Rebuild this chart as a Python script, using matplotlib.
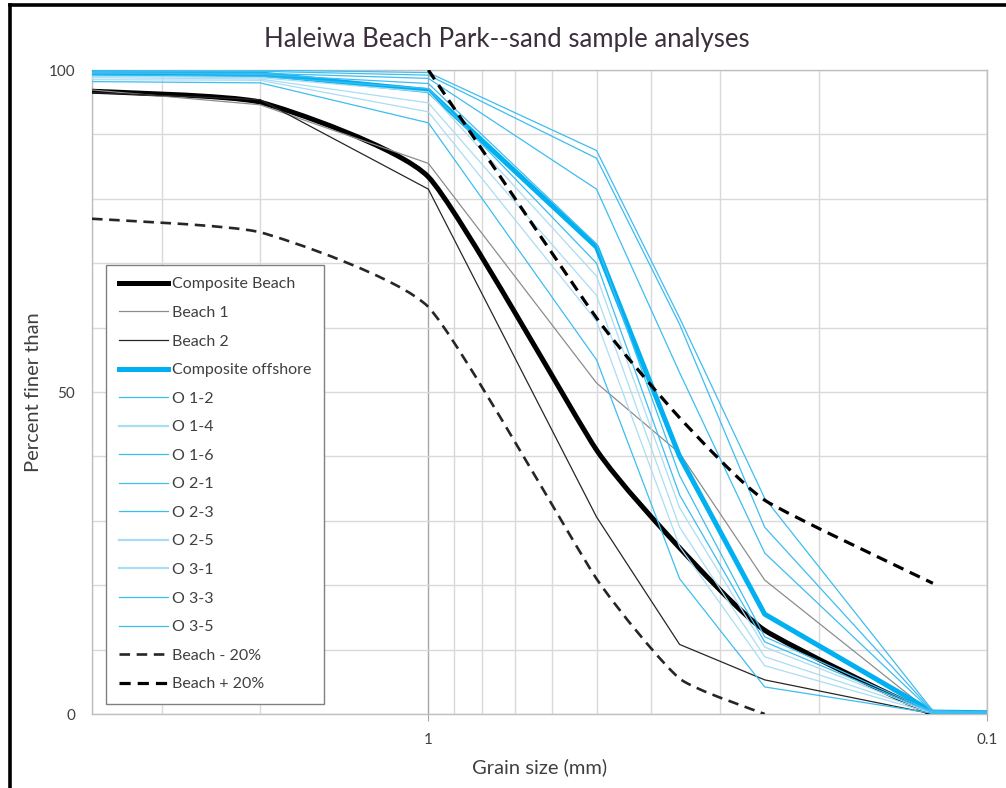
import numpy as np
import matplotlib
matplotlib.use("Agg")
from matplotlib import pyplot as plt
from matplotlib.path import Path
from matplotlib.patches import PathPatch
from matplotlib.lines import Line2D
from matplotlib.ticker import MultipleLocator, LogLocator, NullFormatter, FuncFormatter

plt.rcParams['font.family'] = ['Lato', 'DejaVu Sans']

# sieve sizes (mm)
sizes = [4, 2, 1, 0.5, 0.355, 0.25, 0.125, 0.1]

composite_beach = [96.7, 95.0, 83.4, 41.0, 25.8, 13.0, 0.0, 0.0]
beach_1 = [96.9, 94.6, 85.5, 51.4, 40.5, 20.8, 0.0, 0.0]
beach_2 = [96.5, 95.4, 81.5, 30.6, 10.8, 5.3, 0.0, 0.0]
composite_offshore = [99.6, 99.4, 96.8, 72.5, 40.0, 15.5, 0.3, 0.2]

offshore_names = ["O 1-2", "O 1-4", "O 1-6", "O 2-1", "O 2-3", "O 2-5", "O 3-1", "O 3-3", "O 3-5"]
o_1_2 = [100.0, 100.0, 99.6, 87.5, 61.5, 33.5, 0.5, 0.3]
o_1_4 = [99.0, 98.8, 96.6, 68.0, 32.0, 10.4, 0.2, 0.2]
o_1_6 = [99.8, 99.8, 99.2, 86.3, 60.5, 29.0, 0.4, 0.3]
o_2_1 = [99.6, 99.3, 97.9, 73.0, 37.0, 12.0, 0.3, 0.2]
o_2_3 = [99.5, 99.5, 98.7, 81.5, 53.0, 25.0, 0.3, 0.2]
o_2_5 = [98.8, 98.6, 94.9, 65.0, 29.0, 8.9, 0.2, 0.1]
o_3_1 = [98.5, 98.4, 93.5, 61.0, 26.0, 7.5, 0.1, 0.1]
o_3_3 = [99.2, 99.0, 97.1, 70.0, 34.0, 11.2, 0.2, 0.2]
o_3_5 = [98.2, 98.0, 91.8, 55.0, 21.0, 4.2, 0.1, 0.1]
offshore = [o_1_2, o_1_4, o_1_6, o_2_1, o_2_3, o_2_5, o_3_1, o_3_3, o_3_5]
light = ["O 1-4", "O 2-5", "O 3-1"]

# Beach +/- 20% envelopes
minus_sizes = [4, 2, 1, 0.5, 0.355, 0.25]
beach_minus = [76.9, 74.8, 63.2, 21.0, 5.5, 0.0]
plus_sizes = [1, 0.5, 0.355, 0.25, 0.125]
beach_plus = [100.0, 61.5, 46.0, 33.2, 20.3]


def smooth_path(xs, ys, k=12):
    # lightly smoothed line, built in (log x, y) space
    pts = np.column_stack([np.log10(xs), ys])
    n = len(pts)
    verts = [pts[0]]
    codes = [Path.MOVETO]
    for i in range(n - 1):
        p0 = pts[max(i - 1, 0)]
        p1 = pts[i]
        p2 = pts[i + 1]
        p3 = pts[min(i + 2, n - 1)]
        verts += [p1 + (p2 - p0) / k, p2 - (p3 - p1) / k, p2]
        codes += [Path.CURVE4] * 3
    verts = np.array(verts)
    verts[:, 0] = 10 ** verts[:, 0]
    return Path(verts, codes)


W, H = 1006, 788
fig = plt.figure(figsize=(W / 100, H / 100), dpi=100)
ax = fig.add_axes([92 / W, 1 - 714 / H, 895 / W, 644 / H])

blue = '#00b0f0'
thin_blue = '#3dbdf0'
light_blue = '#a9ddf4'

handles = []

p = PathPatch(smooth_path(sizes, composite_beach), fill=False, edgecolor='black', lw=3.6, zorder=3)
ax.add_patch(p)
handles.append(Line2D([], [], color='black', lw=3.6, label="Composite Beach"))

ax.plot(sizes, beach_1, color='#8c8c8c', lw=0.9, zorder=3)
handles.append(Line2D([], [], color='#8c8c8c', lw=0.9, label="Beach 1"))
ax.plot(sizes, beach_2, color='#262626', lw=0.9, zorder=3)
handles.append(Line2D([], [], color='#262626', lw=0.9, label="Beach 2"))

ax.plot(sizes, composite_offshore, color=blue, lw=3.6, zorder=3)
handles.append(Line2D([], [], color=blue, lw=3.6, label="Composite offshore"))

for name, vals in zip(offshore_names, offshore):
    c = light_blue if name in light else thin_blue
    lw = 1.6 if name in light else 0.9
    ax.plot(sizes, vals, color=c, lw=0.9, zorder=3)
    handles.append(Line2D([], [], color=c, lw=lw, label=name))

p = PathPatch(smooth_path(minus_sizes, beach_minus), fill=False, edgecolor='#262626',
              lw=1.9, linestyle=(0, (4, 2.5)), zorder=3)
ax.add_patch(p)
handles.append(Line2D([], [], color='#262626', lw=1.9, linestyle=(0, (4, 2.5)), label="Beach - 20%"))
p = PathPatch(smooth_path(plus_sizes, beach_plus), fill=False, edgecolor='black',
              lw=2.3, linestyle=(0, (3.5, 2.2)), zorder=3)
ax.add_patch(p)
handles.append(Line2D([], [], color='black', lw=2.3, linestyle=(0, (3.5, 2.2)), label="Beach + 20%"))

# axes
ax.set_xscale('log')
ax.set_xlim(4, 0.1)
ax.set_ylim(0, 100)
ax.xaxis.set_major_locator(LogLocator(base=10))
ax.xaxis.set_minor_locator(LogLocator(base=10, subs=np.arange(2, 10)))
ax.xaxis.set_major_formatter(FuncFormatter(lambda v, pos: f"{v:g}"))
ax.xaxis.set_minor_formatter(NullFormatter())
ax.yaxis.set_major_locator(MultipleLocator(50))
ax.yaxis.set_minor_locator(MultipleLocator(10))

ax.grid(True, which='both', axis='y', color='#d9d9d9', lw=1.0)
ax.grid(True, which='minor', axis='x', color='#d9d9d9', lw=1.0)
ax.grid(True, which='major', axis='x', color='#a6a6a6', lw=1.0)
ax.set_axisbelow(True)
for s in ax.spines.values():
    s.set_color('#bfbfbf')
    s.set_linewidth(1.0)

ax.tick_params(axis='x', which='major', length=5, color='#a6a6a6', pad=9, labelsize=11, labelcolor='#404040')
ax.tick_params(axis='x', which='minor', length=0)
ax.tick_params(axis='y', which='both', length=0, pad=12, labelsize=11, labelcolor='#404040')

ax.set_xlabel("Grain size (mm)", fontsize=14.5, color='#404040')
ax.xaxis.set_label_coords(0.5, -0.068)
ax.set_ylabel("Percent finer than", fontsize=14.5, color='#404040')
ax.yaxis.set_label_coords(-0.056, 0.5)

fig.text(507 / W, 1 - 40 / H, "Haleiwa Beach Park--sand sample analyses",
         ha='center', va='center', fontsize=18.5, color='#3b2f3b')

leg = ax.legend(handles=handles, loc='lower left', bbox_to_anchor=(0.0156, 0.0155),
                fontsize=11.5, frameon=True, fancybox=False, framealpha=1, edgecolor='#808080',
                handlelength=3.1, handletextpad=0.25, labelspacing=0.9, borderpad=0.8,
                borderaxespad=0)
leg.get_frame().set_linewidth(1.0)
for t in leg.get_texts():
    t.set_color('#404040')

# outer border (left and top)
fig.add_artist(Line2D([10 / W, 10 / W], [0, 1 - 5 / H], color='black', lw=2.6, transform=fig.transFigure))
fig.add_artist(Line2D([10 / W, 1], [1 - 5 / H, 1 - 5 / H], color='black', lw=2.6, transform=fig.transFigure))

fig.savefig("out.png", dpi=100)
